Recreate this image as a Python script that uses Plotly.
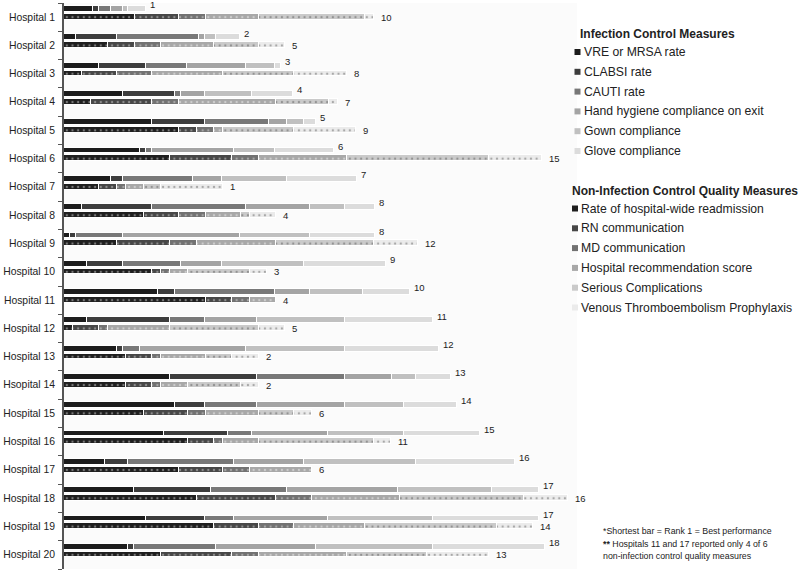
import plotly.graph_objects as go

# ---------------- data (ranks) ----------------
hospitals = ["Hospital 1", "Hospital 2", "Hospital 3", "Hospital 4", "Hospital 5",
             "Hospital 6", "Hospital 7", "Hospital 8", "Hospital 9", "Hospital 10",
             "Hospital 11", "Hospital 12", "Hospital 13", "Hsopital 14", "Hospital 15",
             "Hospital 16", "Hospital 17", "Hospital 18", "Hospital 19", "Hospital 20"]

infection_measures = ["VRE or MRSA rate", "CLABSI rate", "CAUTI rate",
                      "Hand hygiene compliance on exit", "Gown compliance", "Glove compliance"]
quality_measures = ["Rate of hospital-wide readmission", "RN communication", "MD communication",
                    "Hospital recommendation score", "Serious Complications",
                    "Venous Thromboembolism Prophylaxis"]

# Infection control measure ranks (top bar of each hospital)
vre_rank = [5, 2, 6, 10, 15, 13, 8, 3, 1, 4, 16, 4, 9, 18, 19, 17, 7, 12, 14, 11]
clabsi_rank = [1, 7, 8, 9, 9, 1, 2, 12, 1, 6, 3, 14, 1, 15, 5, 11, 4, 13, 10, 1]
cauti_rank = [2, 14, 7, 1, 11, 1, 12, 16, 8, 10, 17, 6, 3, 15, 9, 4, 18, 13, 5, 14]
hand_rank = [2, 1, 10, 4, 3, 14, 5, 11, 20, 7, 6, 9, 18, 8, 15, 13, 12, 19, 16, 17]
gown_rank = [1, 2, 5, 8, 3, 7, 11, 6, 12, 14, 9, 15, 17, 4, 10, 13, 19, 16, 18, 20]
glove_rank = [3, 4, 1, 7, 2, 10, 12, 5, 11, 14, 8, 15, 16, 6, 9, 13, 17, 8, 18, 19]

# Non-infection control quality measure ranks (bottom bar of each hospital)
readmission_rank = [8, 5, 2, 3, 13, 12, 4, 9, 6, 10, 16, 1, 7, 7, 9, 14, 13, 15, 17, 11]
rn_rank = [5, 3, 4, 7, 2, 7, 2, 4, 6, 1, 3, 3, 3, 3, 5, 3, 5, 9, 5, 8]
md_rank = [3, 3, 4, 3, 2, 3, 1, 3, 3, 1, 2, 1, 1, 1, 2, 1, 3, 4, 4, 3]
recommend_rank = [6, 6, 8, 11, 1, 10, 2, 4, 9, 2, 3, 7, 5, 3, 6, 4, 7, 10, 8, 10]
complications_rank = [12, 5, 8, 6, 8, 16, 2, 1, 11, 7, None, 10, 3, 6, 4, 13, None, 14, 15, 9]
vte_rank = [1, 3, 6, 1, 7, 6, 7, 3, 5, 2, None, 3, 3, 2, 2, 2, None, 5, 4, 7]

# Overall rank labels shown at bar ends
infection_overall = [1, 2, 3, 4, 5, 6, 7, 8, 8, 9, 10, 11, 12, 13, 14, 15, 16, 17, 17, 18]
quality_overall = [10, 5, 8, 7, 9, 15, 1, 4, 12, 3, 4, 5, 2, 2, 6, 11, 6, 16, 14, 13]

infection_series = [vre_rank, clabsi_rank, cauti_rank, hand_rank, gown_rank, glove_rank]
quality_series = [readmission_rank, rn_rank, md_rank, recommend_rank, complications_rank, vte_rank]

legend_titles = ["Infection Control Measures", "Non-Infection Control Quality Measures"]
footnotes = ["*Shortest bar = Rank 1 = Best performance",
             "<b>**</b> Hospitals 11 and 17 reported only 4 of 6",
             "non-infection control quality measures"]

# ---------------- styles ----------------
FONT = "Liberation Sans, Arial, Helvetica, sans-serif"
TXT = "#222222"
inf_colors = ["#1c1c1c", "#3d3d3d", "#787878", "#a4a4a4", "#c0c0c0", "#dcdcdc"]
q_colors = ["#1f1f1f", "#474747", "#727272", "#a8a8a8", "#cacaca", "#ebebeb"]
q_dots = ["#7a7a7a", "#8e8e8e", "#a6a6a6", "#cdcdcd", "#939393", "#a8a8a8"]

L, R, T, B = 64, 577, 3, 569
def px_x(px):
    return (px - L) / (R - L)
def px_y(py):
    return (B - py) / (B - T)

n = len(hospitals)
GROUP_PX = (B - T) / n
top_pos = [i + 0.212 for i in range(n)]
bot_pos = [i + 0.49 for i in range(n)]
BAR_W = 0.205

fig = go.Figure()

for name, vals, col in zip(infection_measures, infection_series, inf_colors):
    fig.add_trace(go.Bar(
        y=top_pos, x=vals, orientation="h", width=BAR_W, name=name,
        marker=dict(color=col, line=dict(color="white", width=1)),
        xaxis="x", yaxis="y", showlegend=False))

for name, vals, col, dot in zip(quality_measures, quality_series, q_colors, q_dots):
    fig.add_trace(go.Bar(
        y=bot_pos, x=vals, orientation="h", width=BAR_W, name=name,
        marker=dict(color=col, line=dict(color="white", width=1),
                    pattern=dict(shape=".", size=GROUP_PX / 5, solidity=0.14, fgcolor=dot,
                                 bgcolor=col, fillmode="replace")),
        xaxis="x2", yaxis="y", showlegend=False))

annotations = []
shapes = []
# overall rank labels
for i in range(n):
    tot_inf = sum(s[i] for s in infection_series if s[i] is not None)
    tot_q = sum(s[i] for s in quality_series if s[i] is not None)
    annotations.append(dict(x=tot_inf, y=i + 0.06, xref="x", yref="y", text=str(infection_overall[i]),
                            showarrow=False, xanchor="left", yanchor="middle", xshift=3, borderpad=0,
                            font=dict(size=9.5, color=TXT, family=FONT)))
    annotations.append(dict(x=tot_q, y=i + 0.5, xref="x2", yref="y", text=str(quality_overall[i]),
                            showarrow=False, xanchor="left", yanchor="middle", xshift=6, borderpad=0,
                            font=dict(size=9.5, color=TXT, family=FONT)))

# legend block (titles + items)
def legend_group(title, title_x, title_y, names, colors, mark_x, first_y):
    annotations.append(dict(x=px_x(title_x), y=px_y(title_y), xref="paper", yref="paper",
                            text=f"<b>{title}</b>", showarrow=False, borderpad=0,
                            xanchor="left", yanchor="middle", font=dict(size=12, color=TXT, family=FONT)))
    for k, (nm, col) in enumerate(zip(names, colors)):
        yc = first_y + 19.8 * k
        shapes.append(dict(type="rect", xref="paper", yref="paper",
                           x0=px_x(mark_x), x1=px_x(mark_x + 6), y0=px_y(yc + 3), y1=px_y(yc - 3),
                           fillcolor=col, line=dict(width=0)))
        annotations.append(dict(x=px_x(mark_x + 8), y=px_y(yc), xref="paper", yref="paper",
                                text=nm, showarrow=False, borderpad=0,
                                xanchor="left", yanchor="middle", font=dict(size=12.2, color=TXT, family=FONT)))

legend_group(legend_titles[0], 578.5, 33.5, infection_measures, inf_colors, 574.5, 52)
legend_group(legend_titles[1], 570.5, 191, quality_measures, q_colors, 572, 208.5)

# footnotes
for k, line in enumerate(footnotes):
    annotations.append(dict(x=px_x(602), y=px_y(531 + 12.5 * k), xref="paper", yref="paper",
                            text=line, showarrow=False, xanchor="left", yanchor="middle", borderpad=0,
                            font=dict(size=8.8, color=TXT, family=FONT)))

fig.update_layout(
    width=800, height=573, autosize=False,
    margin=dict(l=L, r=800 - R, t=T, b=573 - B, pad=0),
    paper_bgcolor="white", plot_bgcolor="#fbfbfb",
    barmode="stack", bargap=0,
    font=dict(family=FONT, color=TXT),
    xaxis=dict(range=[0, 87.5], visible=False, fixedrange=True),
    xaxis2=dict(range=[0, 58.0], visible=False, overlaying="x", anchor="y", fixedrange=True),
    yaxis=dict(range=[n, 0], showline=True, linecolor="#555555", linewidth=1.6,
               showgrid=False, zeroline=False, automargin=False, fixedrange=True,
               tickmode="array", tickvals=[i + 0.49 for i in range(n)], ticktext=hospitals,
               ticks="", ticklabelstandoff=5,
               tickfont=dict(size=10.4, color=TXT, family=FONT),
               minor=dict(tickmode="array", tickvals=list(range(n + 1)), ticks="outside",
                          ticklen=4, tickwidth=1.3, tickcolor="#555555", showgrid=False)),
    annotations=annotations,
    shapes=shapes,
    showlegend=False,
    hovermode=False,
)

fig.write_html("out.html", config={"displayModeBar": False},
               post_script="document.body.style.margin='0px';")
